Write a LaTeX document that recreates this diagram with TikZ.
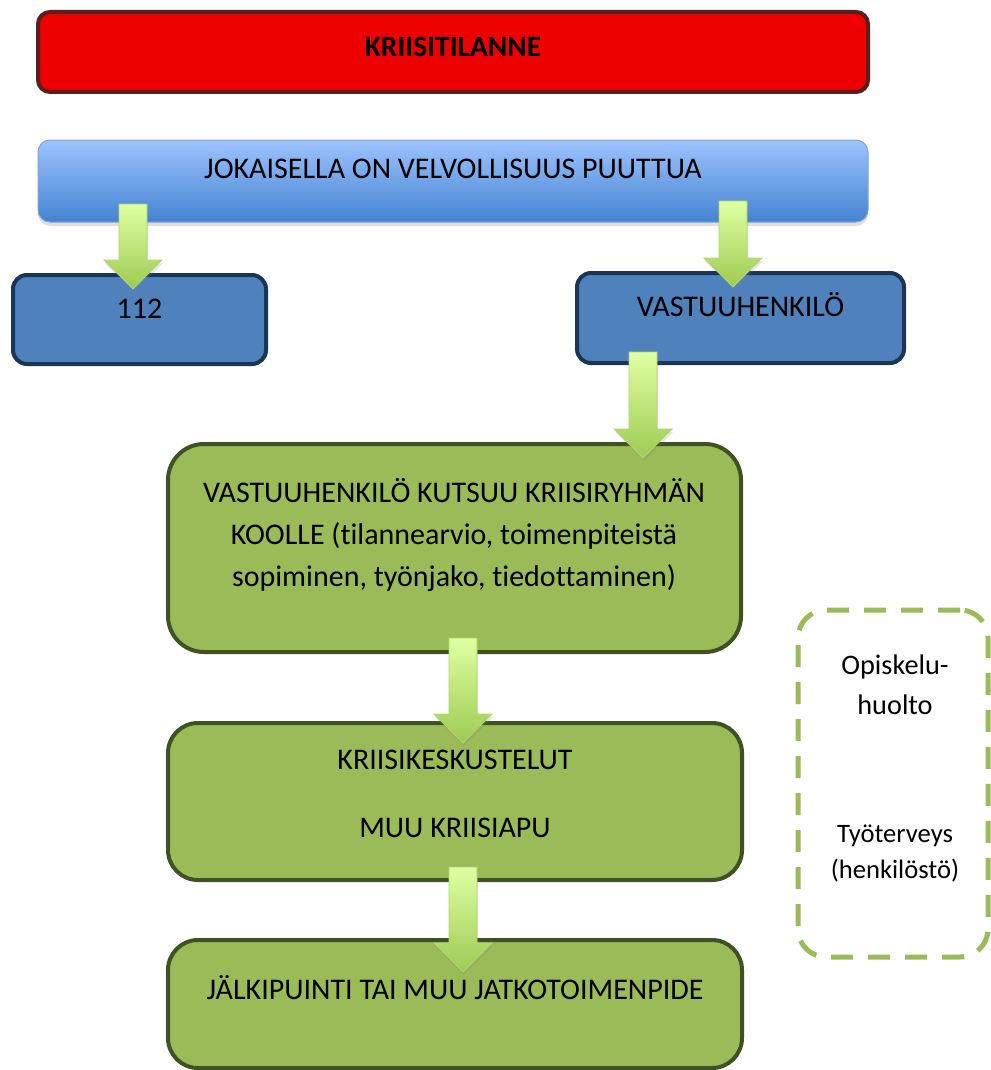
\documentclass[tikz,border=0pt]{standalone}
\usepackage{fontspec}
\setmainfont[Ligatures=NoCommon]{Carlito}
\usetikzlibrary{shadows,calc}
\definecolor{redfill}{HTML}{EE0000}
\definecolor{redborder}{HTML}{5A1E1E}
\definecolor{bluetop}{HTML}{9EC3FF}
\definecolor{bluebot}{HTML}{4483D1}
\definecolor{blueborder}{HTML}{7EA6DA}
\definecolor{navyfill}{HTML}{4F81BD}
\definecolor{navyborder}{HTML}{1C3554}
\definecolor{greenfill}{HTML}{9BBB59}
\definecolor{greenborder}{HTML}{3E5224}
\definecolor{arrtop}{HTML}{E0FFA3}
\definecolor{arrbot}{HTML}{9DCB52}
\definecolor{arrborder}{HTML}{B0D56E}
\tikzset{
  redbox/.style={draw=redborder, fill=redfill, line width=4pt, rounded corners=12pt, inner sep=0pt},
  bluebar/.style={draw=blueborder, line width=1pt, rounded corners=12pt, top color=bluetop, bottom color=bluebot, inner sep=0pt,
    drop shadow={opacity=0.25, shadow xshift=0pt, shadow yshift=-4pt}},
  navybox/.style={draw=navyborder, fill=navyfill, line width=4pt, rounded corners=14pt, inner sep=0pt},
  greenbox/.style={draw=greenborder, fill=greenfill, line width=4pt, inner sep=0pt},
  dashbox/.style={draw=greenfill, line width=5pt, dash pattern=on 22pt off 15pt, rounded corners=28pt, inner sep=0pt},
  txt/.style={font=\fontsize{30}{42}\selectfont, text=black, inner sep=0pt, align=center, text height=0.7em, text depth=0.25em},
  multitxt/.style={font=\fontsize{30}{42}\selectfont, text=black, inner sep=0pt, align=center},
  dtxt/.style={font=\fontsize{28.3}{40}\selectfont, text=black, inner sep=0pt, align=center, text height=0.7em, text depth=0.25em},
  smalltxt/.style={font=\fontsize{26.6}{36}\selectfont, text=black, inner sep=0pt, align=center, text height=0.7em, text depth=0.25em},
  fatarr/.style={draw=arrborder, line width=0.8pt, top color=arrtop, bottom color=arrbot,
    drop shadow={opacity=0.2, shadow xshift=1pt, shadow yshift=-3pt}}
}
\newcommand\fatarrow[2]{%
  \path[fatarr] let \p1=(#1), \p2=(#2) in
  (\x1-14pt,\y1) -- (\x1+14pt,\y1) -- (\x1+14pt,\y2+29pt) -- (\x1+29pt,\y2+29pt)
  -- (\x1,\y2) -- (\x1-29pt,\y2+29pt) -- (\x1-14pt,\y2+29pt) -- cycle;}
\begin{document}
\begin{tikzpicture}[x=1pt,y=-1pt]
\useasboundingbox[fill=white] (0,0) rectangle (990,1070);
% boxes
\node[redbox, minimum width=830pt, minimum height=80pt] (red) at (453,52) {};
\node[txt, font=\fontsize{29.5}{42}\selectfont\bfseries] (tred) at (453,54) {KRIISITILANNE};
\node[bluebar, minimum width=830pt, minimum height=82pt] (blue) at (453,181) {};
\node[txt] (tblue) at (453,176) {JOKAISELLA ON VELVOLLISUUS PUUTTUA};
\node[navybox, minimum width=253pt, minimum height=89pt] (b112) at (139.5,319.5) {};
\node[txt] (t112) at (139.5,316) {112};
\node[navybox, minimum width=327pt, minimum height=90pt] (vast) at (740.5,318) {};
\node[txt] (tvast) at (740.5,314) {VASTUUHENKILÖ};
\node[greenbox, rounded corners=36pt, minimum width=573pt, minimum height=208pt] (g1) at (454.5,548) {};
\node[multitxt] (tg1) at (454,535) {VASTUUHENKILÖ KUTSUU KRIISIRYHMÄN\\KOOLLE (tilannearvio, toimenpiteistä\\sopiminen, työnjako, tiedottaminen)};
\node[greenbox, rounded corners=30pt, minimum width=574pt, minimum height=157pt] (g2) at (455,801.5) {};
\node[txt] (tg2a) at (455,767) {KRIISIKESKUSTELUT};
\node[txt] (tg2b) at (455,835) {MUU KRIISIAPU};
\node[greenbox, rounded corners=30pt, minimum width=574pt, minimum height=128pt] (g3) at (455,1004) {};
\node[txt] (tg3) at (455,997) {JÄLKIPUINTI TAI MUU JATKOTOIMENPIDE};
\node[dashbox, minimum width=190pt, minimum height=347pt] (dash) at (893,783.5) {};
\node[dtxt] (td1) at (895,672) {Opiskelu-};
\node[dtxt] (td2) at (895,712) {huolto};
\node[smalltxt] (td3) at (895,840) {Työterveys};
\node[smalltxt] (td4) at (895,876) {(henkilöstö)};
% arrows
\coordinate (a1s) at (133,204); \coordinate (a1e) at (133,289);
\coordinate (a2s) at (733,201); \coordinate (a2e) at (733,287);
\coordinate (a3s) at (643,352); \coordinate (a3e) at (643,458);
\coordinate (a4s) at (463,638); \coordinate (a4e) at (463,743);
\coordinate (a5s) at (463,867); \coordinate (a5e) at (463,972);
\fatarrow{a1s}{a1e}
\fatarrow{a2s}{a2e}
\fatarrow{a3s}{a3e}
\fatarrow{a4s}{a4e}
\fatarrow{a5s}{a5e}
\end{tikzpicture}
\end{document}
